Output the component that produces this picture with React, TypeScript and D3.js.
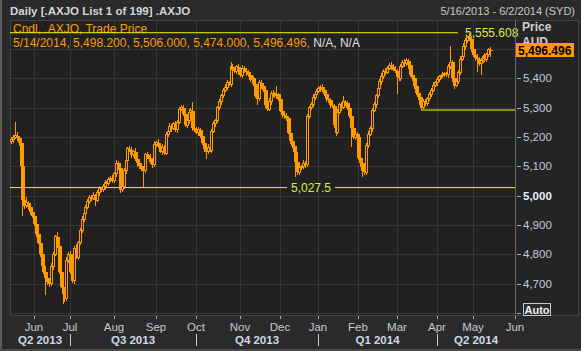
import React from 'react';
import * as d3 from 'd3';

// daily closes of .AXJO, 16 May 2013 .. 14 May 2014
const closes = [
  5190, 5200, 5205, 5195, 5180, 5100, 4985, 4965, 4975, 4960,
  4945, 4930, 4905, 4870, 4840, 4800, 4760, 4740, 4720, 4705,
  4700, 4760, 4800, 4860, 4830, 4740, 4690, 4665, 4650, 4780,
  4800, 4740, 4710, 4820, 4790, 4840, 4880, 4920, 4940, 4960,
  4980, 4995, 4990, 5000, 4985, 5010, 5025, 5020, 5030, 5045,
  5040, 5055, 5060, 5050, 5075, 5110, 5095, 5020, 5030, 5085,
  5120, 5160, 5155, 5140, 5150, 5125, 5110, 5100, 5090, 5085,
  5140, 5135, 5130, 5115, 5105, 5175, 5180, 5170, 5150, 5165,
  5145, 5210, 5220, 5235, 5230, 5245, 5225, 5250, 5295, 5300,
  5280, 5240, 5255, 5285, 5290, 5230, 5225, 5215, 5225, 5205,
  5180, 5160, 5150, 5165, 5155, 5220, 5245, 5255, 5300, 5320,
  5340, 5360, 5370, 5385, 5380, 5440, 5430, 5425, 5440, 5420,
  5410, 5435, 5425, 5420, 5410, 5395, 5400, 5380, 5340, 5330,
  5385, 5375, 5360, 5310, 5295, 5320, 5350, 5345, 5340, 5345,
  5330, 5290, 5275, 5270, 5265, 5215, 5185, 5170, 5150, 5115,
  5080, 5095, 5100, 5110, 5105, 5270, 5300, 5310, 5335, 5345,
  5355, 5365, 5370, 5360, 5345, 5330, 5325, 5310, 5305, 5240,
  5215, 5285, 5310, 5300, 5320, 5315, 5300, 5270, 5230, 5200,
  5210, 5200, 5130, 5110, 5085, 5080, 5170, 5210, 5230, 5290,
  5310, 5340, 5365, 5390, 5405, 5425, 5420, 5435, 5445, 5440,
  5430, 5425, 5405, 5400, 5440, 5455, 5450, 5460, 5445, 5410,
  5400, 5375, 5350, 5335, 5310, 5300, 5320, 5315, 5330, 5345,
  5360, 5375, 5385, 5395, 5405, 5410, 5412, 5415, 5412, 5440,
  5455, 5400, 5375, 5390, 5420, 5465, 5475, 5510, 5530, 5540,
  5535, 5500, 5480, 5470, 5465, 5450, 5460, 5475, 5465, 5480,
  5498.2, 5496.496,
];
const firstOpen = 5185;

// how far the high / low reach beyond the body
const wickUp = [
  10, 8, 45, 12, 6, 8, 10, 6, 20, 8,
  6, 10, 8, 5, 12, 6, 8, 10, 6, 8,
  12, 10, 8, 6, 15, 8, 10, 6, 12, 10,
  8, 12, 10, 8, 15, 6, 8, 10, 6, 8,
  10, 6, 8, 12, 6, 10, 8, 6, 10, 8,
  6, 10, 8, 12, 6, 10, 8, 10, 6, 8,
  10, 6, 8, 10, 6, 12, 8, 6, 10, 8,
  6, 10, 8, 12, 6, 10, 8, 12, 6, 10,
  8, 6, 10, 12, 8, 6, 10, 8, 6, 10,
  8, 12, 6, 10, 8, 30, 6, 10, 8, 6,
  10, 8, 6, 12, 8, 6, 10, 8, 6, 10,
  8, 6, 10, 8, 6, 15, 10, 8, 6, 10,
  8, 12, 6, 10, 8, 6, 10, 8, 12, 6,
  10, 8, 6, 10, 8, 12, 6, 10, 8, 29,
  6, 10, 8, 6, 12, 8, 6, 10, 8, 6,
  10, 8, 6, 12, 8, 10, 6, 8, 12, 6,
  10, 8, 6, 10, 8, 12, 6, 8, 10, 6,
  8, 12, 6, 10, 20, 6, 8, 10, 6, 8,
  12, 6, 10, 8, 6, 10, 8, 12, 6, 10,
  8, 6, 10, 8, 12, 6, 10, 8, 6, 10,
  8, 12, 6, 10, 8, 6, 10, 8, 6, 10,
  8, 6, 10, 8, 12, 6, 10, 8, 6, 10,
  8, 12, 6, 10, 8, 6, 10, 8, 6, 10,
  57, 8, 6, 10, 8, 12, 6, 10, 8, 6,
  15.6, 8, 10, 6, 12, 8, 10, 6, 12, 8,
  6, 7.8,
];
const wickDown = [
  8, 10, 6, 8, 12, 8, 55, 10, 6, 8,
  10, 6, 8, 12, 6, 10, 8, 6, 60, 8,
  10, 8, 12, 6, 10, 8, 6, 35, 12, 8,
  10, 6, 8, 12, 6, 10, 8, 6, 10, 8,
  6, 10, 8, 6, 20, 8, 10, 6, 8, 10,
  8, 6, 10, 8, 6, 10, 8, 12, 6, 8,
  10, 8, 6, 10, 8, 6, 12, 8, 6, 55,
  8, 10, 6, 8, 12, 6, 10, 8, 6, 10,
  8, 6, 10, 8, 12, 6, 8, 10, 6, 8,
  10, 6, 8, 12, 6, 10, 8, 6, 10, 8,
  6, 10, 25, 8, 6, 10, 8, 12, 6, 8,
  10, 6, 8, 10, 6, 8, 12, 6, 10, 8,
  6, 10, 8, 12, 6, 8, 10, 6, 8, 20,
  8, 10, 6, 12, 8, 6, 10, 8, 6, 10,
  8, 6, 10, 8, 12, 6, 10, 8, 6, 50,
  8, 10, 6, 8, 12, 6, 10, 8, 6, 10,
  8, 6, 10, 8, 6, 12, 8, 10, 6, 8,
  10, 6, 8, 12, 6, 10, 8, 6, 65, 8,
  10, 6, 8, 12, 22, 8, 10, 6, 8, 12,
  6, 10, 8, 6, 12, 8, 10, 6, 8, 10,
  6, 8, 58, 10, 8, 6, 10, 8, 12, 6,
  8, 10, 6, 8, 10, 8, 6, 10, 8, 6,
  10, 8, 6, 12, 8, 6, 10, 8, 6, 10,
  8, 12, 10, 6, 8, 10, 6, 8, 12, 10,
  8, 10, 6, 12, 43, 8, 38, 6, 10, 8,
  6, 22.5,
];

const holidays = ['2013-06-10', '2013-12-25', '2013-12-26', '2014-01-01', '2014-01-27', '2014-04-18', '2014-04-21', '2014-04-25'];
const yTicks = [4600, 4700, 4800, 4900, 5000, 5100, 5200, 5300, 5400, 5500];
const yLabels = [4700, 4800, 4900, 5000, 5100, 5200, 5300, 5400];
const highLine = 5555.608;
const refLine = 5027.5;
const lowLineIndex = 215;

const ORANGE = '#ff9a00';
const YELLOW = '#f5f500';
const FONT = '"Liberation Sans", Arial, sans-serif';

const fmtDay = d3.timeFormat('%Y-%m-%d');
const tradingDays = d3.timeDay
  .range(new Date(2013, 4, 16), new Date(2014, 5, 3))
  .filter(d => d.getDay() !== 0 && d.getDay() !== 6 && !holidays.includes(fmtDay(d)));

export default function App() {
  const left = 10, right = 515, top = 20, bottom = 315;

  const x = d3.scaleBand().domain(tradingDays.map((d, i) => i)).range([10, 516]).padding(0);
  const cx = (i) => Math.round(x(i) + x.bandwidth() / 2);
  const y = d3.scaleLinear().domain([4593, 5599]).range([bottom, top]);

  const candles = closes.map((c, i) => {
    const o = i === 0 ? firstOpen : closes[i - 1];
    const h = Math.max(o, c) + wickUp[i];
    const l = Math.min(o, c) - wickDown[i];
    return { i, o, h, l, c };
  });

  // month ticks on the first trading day of each month
  const monthTicks = tradingDays
    .map((d, i) => ({ d, i }))
    .filter(({ d, i }) => i > 0 && d.getMonth() !== tradingDays[i - 1].getMonth());
  const quarterStarts = monthTicks.filter(({ d }) => d.getMonth() % 3 === 0);
  const qEdges = [left, ...quarterStarts.map(t => cx(t.i)), right];
  const qNames = [tradingDays[0], ...quarterStarts.map(t => t.d)].map(d => `Q${Math.floor(d.getMonth() / 3) + 1} ${d.getFullYear()}`);

  const lowVal = candles[lowLineIndex].l;
  const fmt = d3.format(',');

  return (
    <svg width={581} height={351} style={{ position: 'absolute', left: 0, top: 0, display: 'block' }} fontFamily={FONT}>
      <rect width={581} height={351} fill="#2a2a2a" />
      <rect x={0} y={0} width={2} height={351} fill="#5c5c5c" />
      <rect x={0} y={349} width={581} height={2} fill="#4a4a4a" />
      <rect x={left} y={top} width={right - left} height={bottom - top} fill="#212121" />
      <rect x={right} y={top} width={578 - right} height={bottom - top} fill="#242424" />

      {/* grid */}
      {yTicks.map(v => (
        <line key={v} x1={left} x2={right} y1={Math.round(y(v)) + 0.5} y2={Math.round(y(v)) + 0.5} stroke="#363636" />
      ))}
      {monthTicks.map(t => (
        <line key={t.i} x1={cx(t.i) + 0.5} x2={cx(t.i) + 0.5} y1={top} y2={bottom} stroke="#363636" />
      ))}
      <rect x={left + 0.5} y={top + 0.5} width={578 - left} height={bottom - top} fill="none" stroke="#444" />

      {/* header */}
      <text x={10} y={15} fill="#d6d6d6" fontSize={11.5} fontWeight="bold">Daily [.AXJO List 1 of 199] .AXJO</text>
      <text x={575} y={15} fill="#c8c8c8" fontSize={11} textAnchor="end">5/16/2013 - 6/2/2014 (SYD)</text>
      <text x={13} y={33} fill={ORANGE} fontSize={12}>Cndl, .AXJO, Trade Price</text>
      <text x={13} y={47} fontSize={12}>
        <tspan fill={ORANGE}>5/14/2014, 5,498.200, 5,506.000, 5,474.000, 5,496.496, </tspan>
        <tspan fill="#e0e0e0">N/A, N/A</tspan>
      </text>

      {/* reference lines */}
      <line x1={left} x2={458} y1={y(highLine)} y2={y(highLine)} stroke={YELLOW} />
      <text x={465} y={y(highLine) + 4.5} fill="#dcec40" fontSize={12}>{d3.format(',.3f')(highLine)}</text>
      <line x1={left} x2={287} y1={y(refLine)} y2={y(refLine)} stroke={YELLOW} />
      <line x1={335} x2={right} y1={y(refLine)} y2={y(refLine)} stroke={YELLOW} />
      <text x={311} y={y(refLine) + 4.5} fill="#dcec40" fontSize={12} textAnchor="middle">{fmt(refLine)}</text>
      <line x1={cx(lowLineIndex)} x2={right} y1={y(lowVal)} y2={y(lowVal)} stroke={YELLOW} />

      {/* candles */}
      <g shapeRendering="crispEdges">
        {candles.map(d => (
          <line key={'w' + d.i} x1={cx(d.i) + 0.5} x2={cx(d.i) + 0.5} y1={y(d.h)} y2={y(d.l)} stroke={ORANGE} />
        ))}
        {candles.map(d => {
          const up = d.c >= d.o;
          const yt = y(Math.max(d.o, d.c));
          const hgt = Math.max(1, Math.abs(y(d.o) - y(d.c)));
          return up ? (
            <rect key={'b' + d.i} x={cx(d.i) - 1} y={yt} width={2.5} height={hgt} fill="#212121" stroke={ORANGE} />
          ) : (
            <rect key={'b' + d.i} x={cx(d.i) - 1} y={yt} width={3.5} height={hgt} fill={ORANGE} />
          );
        })}
      </g>

      {/* right axis */}
      <line x1={right + 0.5} x2={right + 0.5} y1={top} y2={bottom} stroke="#6a6a6a" />
      {yTicks.map(v => (
        <line key={'t' + v} x1={right + 2} x2={right + 6} y1={Math.round(y(v)) + 0.5} y2={Math.round(y(v)) + 0.5} stroke="#9aa" />
      ))}
      {yLabels.map(v => (
        <text key={'l' + v} x={523} y={y(v) + 4} fill={v === 5000 ? '#e8eef8' : '#c3cbd9'} fontSize={11.5} fontWeight={v === 5000 ? 'bold' : 'normal'}>{fmt(v)}</text>
      ))}
      <text x={522} y={31} fill="#d0d0d0" fontSize={12} fontWeight="bold">Price</text>
      <text x={522} y={46} fill="#d0d0d0" fontSize={12} fontWeight="bold">AUD</text>
      <rect x={516} y={43} width={58} height={14} fill="#ff9900" />
      <text x={518} y={54.5} fill="#000" fontSize={12} fontWeight="bold">{d3.format(',.3f')(closes[closes.length - 1])}</text>
      <rect x={523.5} y={303.5} width={27} height={12} fill="#2a2a2a" stroke="#c8c8c8" />
      <text x={537} y={313.5} fill="#f0f0f0" fontSize={11} fontWeight="bold" textAnchor="middle">Auto</text>

      {/* bottom axis */}
      {monthTicks.map(t => (
        <g key={'m' + t.i}>
          <line x1={cx(t.i) + 0.5} x2={cx(t.i) + 0.5} y1={bottom + 1} y2={bottom + 4} stroke="#aab" />
          <text x={cx(t.i)} y={331} fill="#c3cbd9" fontSize={11.5} textAnchor="middle">{d3.timeFormat('%b')(t.d)}</text>
        </g>
      ))}
      {quarterStarts.map(t => (
        <line key={'q' + t.i} x1={cx(t.i) + 0.5} x2={cx(t.i) + 0.5} y1={334} y2={346} stroke="#c3cbd9" />
      ))}
      {qNames.map((q, k) => (
        <text key={q} x={(qEdges[k] + qEdges[k + 1]) / 2} y={344} fill="#d0d8e6" fontSize={11.5} fontWeight="bold" textAnchor="middle">{q}</text>
      ))}
    </svg>
  );
}
